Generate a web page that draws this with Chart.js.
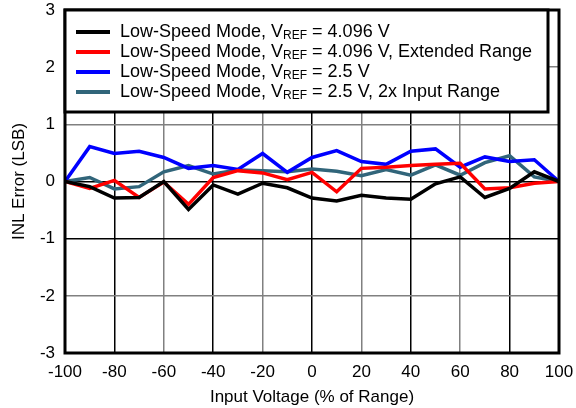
<!DOCTYPE html>
<html>
<head>
<meta charset="utf-8">
<script src="https://cdn.jsdelivr.net/npm/chart.js@4.4.0/dist/chart.umd.min.js"></script>
<style>
	html, body { margin: 0; padding: 0; background: #fff; }
	#wrap { width: 576px; height: 408px; }
</style>
</head>
<body>
<div id="wrap"><canvas id="InlChartCanvas" width="576" height="408"></canvas></div>
<script>
// input voltage, % of range
var inputVoltage = [-100, -90, -80, -70, -60, -50, -40, -30, -20, -10, 0, 10, 20, 30, 40, 50, 60, 70, 80, 90, 100];

// INL error (LSB)
var inlVref4096 = [0, -0.09, -0.29, -0.28, 0, -0.49, -0.06, -0.22, -0.03, -0.11, -0.29, -0.34, -0.24, -0.29, -0.31, -0.04, 0.08, -0.28, -0.12, 0.17, 0];
var inlVref4096Ext = [0, -0.12, 0.02, -0.28, -0.01, -0.40, 0.07, 0.19, 0.15, 0.03, 0.16, -0.18, 0.23, 0.25, 0.28, 0.30, 0.32, -0.13, -0.11, -0.03, 0];
var inlVref25 = [0, 0.61, 0.49, 0.53, 0.42, 0.23, 0.28, 0.21, 0.49, 0.16, 0.42, 0.54, 0.35, 0.30, 0.53, 0.57, 0.25, 0.43, 0.35, 0.38, 0];
var inlVref25x2 = [0, 0.07, -0.13, -0.09, 0.17, 0.28, 0.13, 0.20, 0.19, 0.17, 0.22, 0.18, 0.10, 0.21, 0.11, 0.29, 0.11, 0.33, 0.45, 0.08, 0];

var xTicks = [-100, -80, -60, -40, -20, 0, 20, 40, 60, 80, 100];
var yTicks = [-3, -2, -1, 0, 1, 2, 3];

var legendItems = [
	{ pre: "Low-Speed Mode, V", sub: "REF", post: " = 4.096 V", color: "#000000" },
	{ pre: "Low-Speed Mode, V", sub: "REF", post: " = 4.096 V, Extended Range", color: "#ff0000" },
	{ pre: "Low-Speed Mode, V", sub: "REF", post: " = 2.5 V", color: "#0000ff" },
	{ pre: "Low-Speed Mode, V", sub: "REF", post: " = 2.5 V, 2x Input Range", color: "#31657a" }
];

var FONT = "'Liberation Sans', Arial, sans-serif";

function toPoints(ys) {
	var pts = [];
	for (var i = 0; i < inputVoltage.length; i++) {
		pts.push({ x: inputVoltage[i], y: ys[i] });
	}
	return pts;
}

function makeSet(item, ys) {
	return {
		label: item.pre + item.sub + item.post,
		data: toPoints(ys),
		borderColor: item.color,
		backgroundColor: item.color,
		borderWidth: 3.5,
		pointRadius: 0,
		tension: 0
	};
}

// frame round the plot and the legend box (canvas legend can't do subscripts)
var framePlugin = {
	id: 'frameAndLegend',
	afterDraw: function(chart) {
		var ctx = chart.ctx;
		var a = chart.chartArea;
		ctx.save();
		ctx.strokeStyle = '#000';
		ctx.lineWidth = 3;
		ctx.strokeRect(a.left, a.top, a.right - a.left, a.bottom - a.top);

		var bx = a.left, by = a.top, bw = 483, bh = 102;
		ctx.fillStyle = '#fff';
		ctx.fillRect(bx, by, bw, bh);
		ctx.strokeRect(bx, by, bw, bh);
		for (var i = 0; i < legendItems.length; i++) {
			var it = legendItems[i];
			var y = by + 22 + i * 20;
			ctx.strokeStyle = it.color;
			ctx.lineWidth = 4;
			ctx.beginPath();
			ctx.moveTo(bx + 11, y);
			ctx.lineTo(bx + 45, y);
			ctx.stroke();

			ctx.fillStyle = '#000';
			ctx.textBaseline = 'middle';
			ctx.textAlign = 'left';
			var tx = bx + 55;
			ctx.font = '18px ' + FONT;
			ctx.fillText(it.pre, tx, y);
			tx += ctx.measureText(it.pre).width;
			ctx.font = '12px ' + FONT;
			ctx.fillText(it.sub, tx, y + 4);
			tx += ctx.measureText(it.sub).width;
			ctx.font = '18px ' + FONT;
			ctx.fillText(it.post, tx, y);
		}
		ctx.restore();
	}
};

var chartConfig = {
	type: 'line',
	data: {
		datasets: [
			makeSet(legendItems[0], inlVref4096),
			makeSet(legendItems[1], inlVref4096Ext),
			makeSet(legendItems[2], inlVref25),
			makeSet(legendItems[3], inlVref25x2)
		]
	},
	options: {
		responsive: false,
		animation: false,
		layout: { padding: { top: 10, right: 17, left: 0, bottom: 0 } },
		plugins: {
			legend: { display: false },
			tooltip: { enabled: false }
		},
		scales: {
			x: {
				type: 'linear',
				min: -100,
				max: 100,
				afterBuildTicks: function(scale) {
					scale.ticks = xTicks.map(function(v) { return { value: v }; });
				},
				afterFit: function(scale) {
					scale.height = 55;
					scale.paddingLeft = 0;
					scale.paddingRight = 0;
				},
				grid: {
					drawTicks: false,
					lineWidth: 1.5,
					color: function(c) {
						var v = c.tick ? c.tick.value : 0;
						if (v === -100 || v === 100) return 'rgba(0,0,0,0)';
						return (v % 40 === 0) ? '#000' : '#808080';
					}
				},
				border: { display: false },
				ticks: {
					padding: 9,
					color: '#000',
					font: { family: FONT, size: 17 }
				},
				title: {
					display: true,
					text: 'Input Voltage (% of Range)',
					color: '#000',
					padding: { top: 0, bottom: 0 },
					font: { family: FONT, size: 17 }
				}
			},
			y: {
				type: 'linear',
				min: -3,
				max: 3,
				afterBuildTicks: function(scale) {
					scale.ticks = yTicks.map(function(v) { return { value: v }; });
				},
				afterFit: function(scale) {
					scale.width = 65;
					scale.paddingTop = 0;
					scale.paddingBottom = 0;
				},
				grid: {
					drawTicks: false,
					lineWidth: 1.5,
					color: function(c) {
						var v = c.tick ? c.tick.value : 0;
						if (v === -3 || v === 3) return 'rgba(0,0,0,0)';
						return (v === 0 || v === -1) ? '#000' : '#808080';
					}
				},
				border: { display: false },
				ticks: {
					padding: 10,
					color: '#000',
					font: { family: FONT, size: 17 }
				},
				title: {
					display: true,
					text: 'INL Error (LSB)',
					color: '#000',
					padding: { top: 9, bottom: 0 },
					font: { family: FONT, size: 17 }
				}
			}
		}
	},
	plugins: [framePlugin]
};

var ctx = document.getElementById("InlChartCanvas").getContext('2d');
window.inlChart = new Chart(ctx, chartConfig);
</script>
</body>
</html>
